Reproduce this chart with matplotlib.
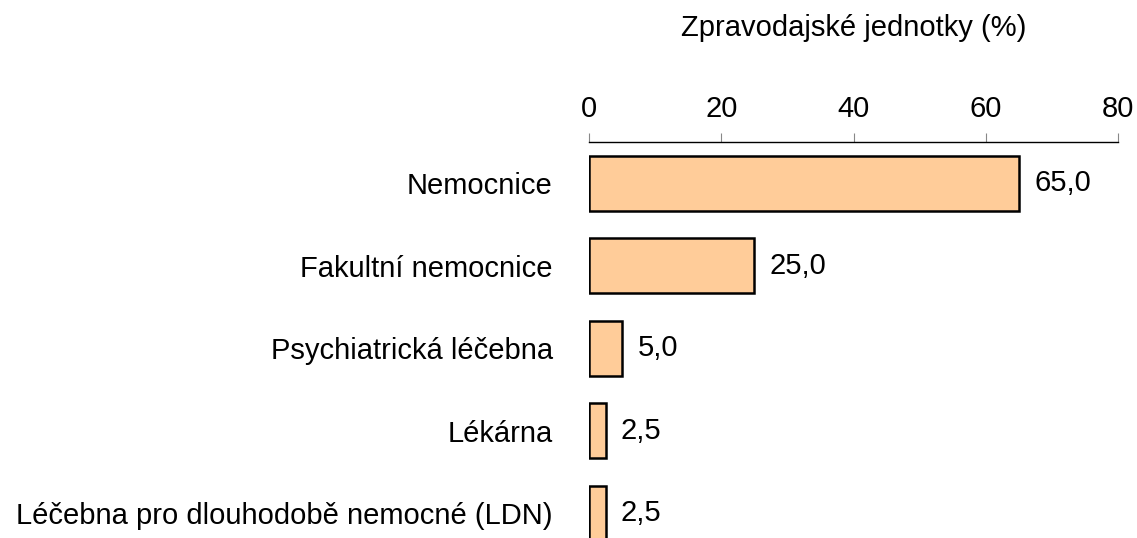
import numpy as np
import matplotlib.pyplot as plt

plt.rcParams['font.family'] = ['Liberation Sans', 'DejaVu Sans']

categories = ["Nemocnice", "Fakultní nemocnice", "Psychiatrická léčebna",
              "Lékárna", "Léčebna pro dlouhodobě nemocné (LDN)"]
values = [65.0, 25.0, 5.0, 2.5, 2.5]
xticks = [0, 20, 40, 60, 80]

fig = plt.figure(figsize=(11.37, 5.38), dpi=100)
ax = fig.add_axes([0.518, 0.0, 0.4655, 0.736])

y = np.arange(len(categories))
ax.barh(y, values, height=0.67, color='#FFCC99', edgecolor='black', linewidth=1.8)

for yi, v in zip(y, values):
    ax.annotate(f"{v:.1f}".replace('.', ','), (v, yi), xytext=(11, 0),
                textcoords='offset points', va='center', ha='left', fontsize=21)

ax.set_xlim(0, 80)
ax.set_ylim(4.3, -0.5)
ax.set_xticks(xticks)
ax.set_yticks(y)
ax.set_yticklabels(categories, fontsize=21)
ax.xaxis.tick_top()
ax.xaxis.set_label_position('top')
ax.set_xlabel("Zpravodajské jednotky (%)", fontsize=21, labelpad=43)
ax.tick_params(axis='x', direction='out', length=6.5, color='#888888',
               labelsize=21, pad=7)
ax.tick_params(axis='y', length=0, pad=26)

for s in ['bottom', 'left', 'right']:
    ax.spines[s].set_visible(False)
ax.spines['top'].set_linewidth(1.0)

fig.savefig("out.png", dpi=100)
